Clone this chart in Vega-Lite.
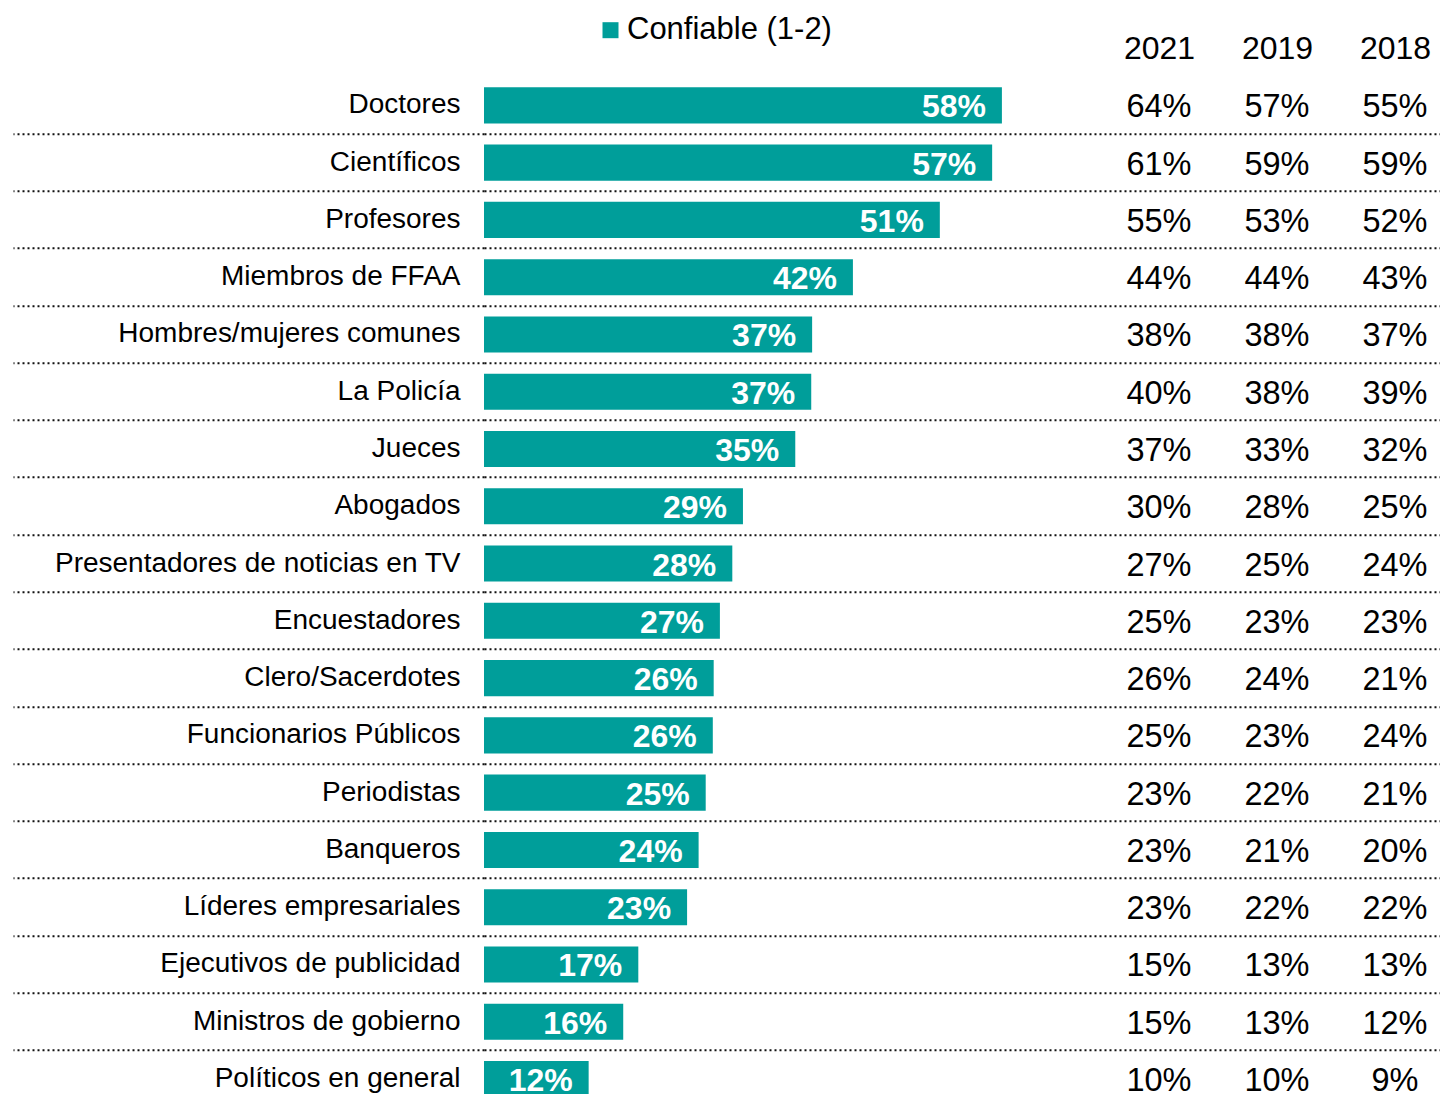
{
  "$schema": "https://vega.github.io/schema/vega-lite/v6.json",
  "autosize": {"type": "none"},
  "padding": {"left": 484, "top": 76.7, "right": 0, "bottom": 0},
  "width": 956,
  "height": 1031,
  "background": "white",
  "config": {"font": "Liberation Sans", "view": {"stroke": null}},
  "data": {"values": [
    {"cat": "Doctores", "confiable": 0.584, "2021": 0.64, "2019": 0.57, "2018": 0.55},
    {"cat": "Científicos", "confiable": 0.573, "2021": 0.61, "2019": 0.59, "2018": 0.59},
    {"cat": "Profesores", "confiable": 0.514, "2021": 0.55, "2019": 0.53, "2018": 0.52},
    {"cat": "Miembros de FFAA", "confiable": 0.416, "2021": 0.44, "2019": 0.44, "2018": 0.43},
    {"cat": "Hombres/mujeres comunes", "confiable": 0.370, "2021": 0.38, "2019": 0.38, "2018": 0.37},
    {"cat": "La Policía", "confiable": 0.369, "2021": 0.40, "2019": 0.38, "2018": 0.39},
    {"cat": "Jueces", "confiable": 0.351, "2021": 0.37, "2019": 0.33, "2018": 0.32},
    {"cat": "Abogados", "confiable": 0.292, "2021": 0.30, "2019": 0.28, "2018": 0.25},
    {"cat": "Presentadores de noticias en TV", "confiable": 0.280, "2021": 0.27, "2019": 0.25, "2018": 0.24},
    {"cat": "Encuestadores", "confiable": 0.266, "2021": 0.25, "2019": 0.23, "2018": 0.23},
    {"cat": "Clero/Sacerdotes", "confiable": 0.259, "2021": 0.26, "2019": 0.24, "2018": 0.21},
    {"cat": "Funcionarios Públicos", "confiable": 0.258, "2021": 0.25, "2019": 0.23, "2018": 0.24},
    {"cat": "Periodistas", "confiable": 0.250, "2021": 0.23, "2019": 0.22, "2018": 0.21},
    {"cat": "Banqueros", "confiable": 0.242, "2021": 0.23, "2019": 0.21, "2018": 0.20},
    {"cat": "Líderes empresariales", "confiable": 0.229, "2021": 0.23, "2019": 0.22, "2018": 0.22},
    {"cat": "Ejecutivos de publicidad", "confiable": 0.174, "2021": 0.15, "2019": 0.13, "2018": 0.13},
    {"cat": "Ministros de gobierno", "confiable": 0.157, "2021": 0.15, "2019": 0.13, "2018": 0.12},
    {"cat": "Políticos en general", "confiable": 0.118, "2021": 0.10, "2019": 0.10, "2018": 0.09}
  ]},
  "encoding": {
    "y": {
      "field": "cat", "type": "nominal", "sort": null,
      "scale": {"paddingInner": 0, "paddingOuter": 0},
      "axis": {
        "title": null, "domain": false,
        "bandPosition": 1,
        "ticks": true, "tickSize": 471, "tickDash": [2, 3], "tickWidth": 2, "tickColor": "#111",
        "grid": true, "gridDash": [2, 3], "gridWidth": 2, "gridColor": "#111",
        "labelPadding": -447,
        "labelFontSize": 28, "labelColor": "#000", "labelAlign": "right", "labelBaseline": "middle",
        "labelLimit": 600
      }
    }
  },
  "layer": [
    {
      "mark": {"type": "bar", "height": {"band": 0.63}},
      "encoding": {
        "x": {"field": "confiable", "type": "quantitative", "scale": {"domain": [0, 1.078], "nice": false, "zero": true}, "axis": null},
        "color": {
          "datum": "Confiable (1-2)",
          "scale": {"range": ["#009E9A"]},
          "legend": {
            "title": null, "orient": "none", "legendX": 111, "legendY": -62,
            "symbolType": "square", "symbolSize": 256, "symbolStrokeWidth": 0,
            "labelFontSize": 31, "labelColor": "#000", "labelOffset": 1, "labelLimit": 500
          }
        }
      }
    },
    {
      "mark": {"type": "text", "align": "right", "baseline": "middle", "dx": -16, "dy": 2, "fontSize": 32, "fontWeight": "bold", "color": "white"},
      "encoding": {
        "x": {"field": "confiable", "type": "quantitative", "scale": {"domain": [0, 1.078], "nice": false, "zero": true}, "axis": null},
        "text": {"field": "confiable", "type": "quantitative", "format": ".0%"}
      }
    },
    {
      "transform": [{"fold": ["2021", "2019", "2018"], "as": ["year", "value"]}],
      "mark": {"type": "text", "align": "center", "baseline": "middle", "dy": 2, "fontSize": 32.5, "color": "#000"},
      "encoding": {
        "x": {
          "field": "year", "type": "ordinal", "sort": ["2021", "2019", "2018"],
          "scale": {"type": "point", "padding": 0, "range": [675, 911]},
          "axis": {"orient": "top", "title": null, "domain": false, "ticks": false, "grid": false,
                   "labelAngle": 0, "labelFontSize": 32, "labelColor": "#000", "labelPadding": 28, "labelBaseline": "middle"}
        },
        "text": {"field": "value", "type": "quantitative", "format": ".0%"}
      }
    }
  ],
  "resolve": {"scale": {"x": "independent"}, "axis": {"x": "independent"}}
}
